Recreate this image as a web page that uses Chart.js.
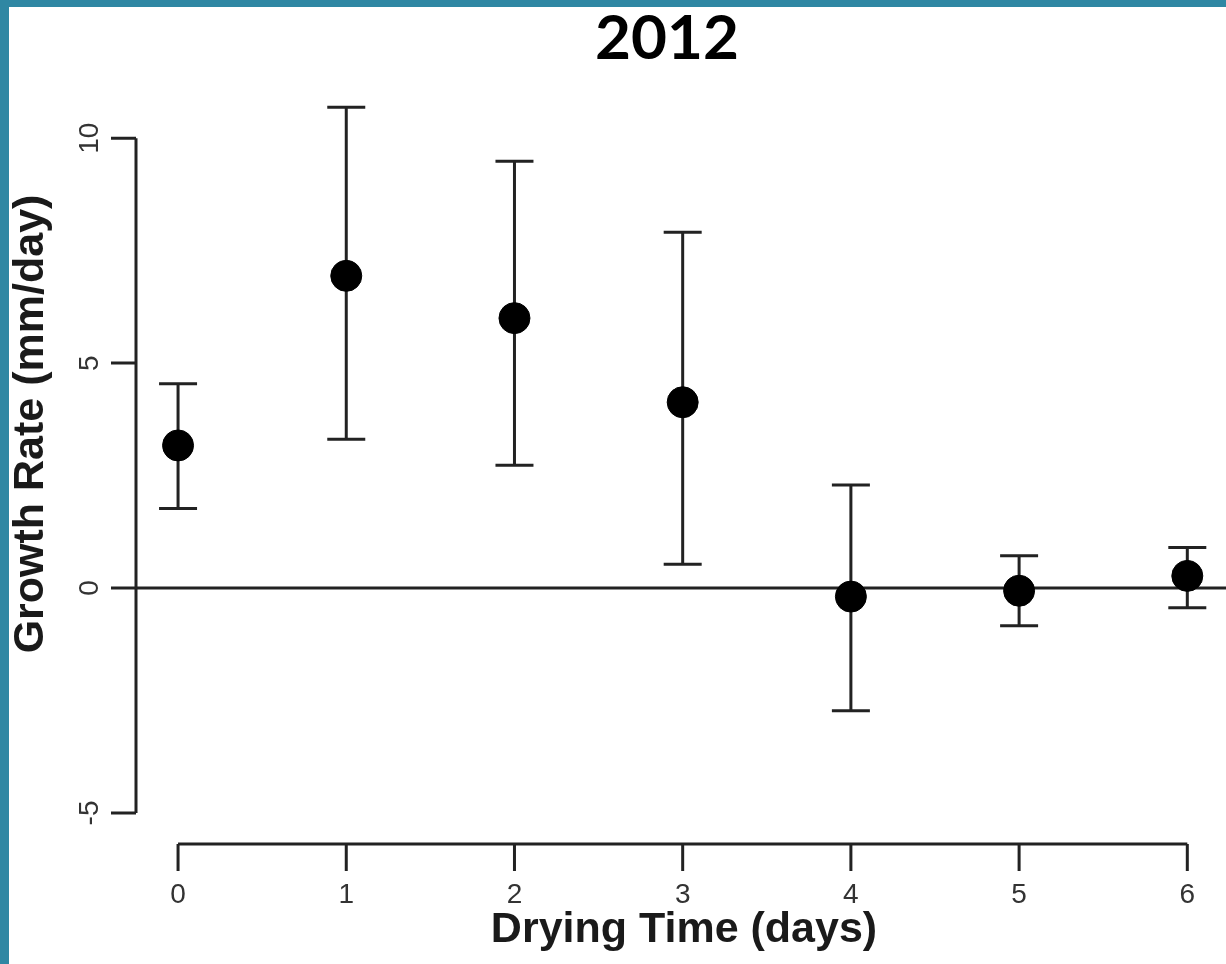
<!DOCTYPE html>
<html>
<head>
<meta charset="utf-8">
<script src="https://cdn.jsdelivr.net/npm/chart.js@4.4.1/dist/chart.umd.min.js"></script>
<style>
  html, body { margin: 0; padding: 0; background: #fff; overflow: hidden; }
  #wrap { position: relative; width: 1226px; height: 964px; }
  #borderTop { position: absolute; left: 0; top: 0; width: 1226px; height: 7px; background: #2f87a3; }
  #borderLeft { position: absolute; left: 0; top: 0; width: 9px; height: 964px; background: #2f87a3; }
</style>
</head>
<body>
<div id="wrap">
  <canvas id="grafico" width="1226" height="964"></canvas>
  <div id="borderTop"></div>
  <div id="borderLeft"></div>
</div>
<script>
// dados
const dias = [0, 1, 2, 3, 4, 5, 6];
const taxa = [3.17, 6.94, 6.0, 4.13, -0.19, -0.06, 0.27];
const barraSup = [4.54, 10.69, 9.49, 7.91, 2.29, 0.72, 0.90];
const barraInf = [1.77, 3.31, 2.73, 0.53, -2.73, -0.84, -0.44];
const ticksY = [-5, 0, 5, 10];
const ticksX = [0, 1, 2, 3, 4, 5, 6];

const corLinha = '#222';

// desenha eixos estilo R, linha do zero e barras de erro
const eixosPlugin = {
    id: 'eixosR',
    beforeDatasetsDraw(chart) {
        const { ctx, chartArea, scales: { x, y } } = chart;
        ctx.save();
        ctx.strokeStyle = corLinha;
        ctx.lineWidth = 3;
        ctx.lineCap = 'butt';

        // linha horizontal no zero
        ctx.beginPath();
        ctx.moveTo(chartArea.left, y.getPixelForValue(0));
        ctx.lineTo(chartArea.right, y.getPixelForValue(0));
        ctx.stroke();

        // eixo y (so entre -5 e 10)
        const y0 = y.getPixelForValue(ticksY[0]);
        const y1 = y.getPixelForValue(ticksY[ticksY.length - 1]);
        ctx.beginPath();
        ctx.moveTo(chartArea.left, y0);
        ctx.lineTo(chartArea.left, y1);
        ticksY.forEach(v => {
            const py = y.getPixelForValue(v);
            ctx.moveTo(chartArea.left - 25, py);
            ctx.lineTo(chartArea.left, py);
        });
        ctx.stroke();

        // eixo x
        const x0 = x.getPixelForValue(ticksX[0]);
        const x1 = x.getPixelForValue(ticksX[ticksX.length - 1]);
        ctx.beginPath();
        ctx.moveTo(x0, chartArea.bottom);
        ctx.lineTo(x1, chartArea.bottom);
        ticksX.forEach(v => {
            const px = x.getPixelForValue(v);
            ctx.moveTo(px, chartArea.bottom);
            ctx.lineTo(px, chartArea.bottom + 27);
        });
        ctx.stroke();

        // barras de erro
        dias.forEach((d, i) => {
            const px = x.getPixelForValue(d);
            const pSup = y.getPixelForValue(barraSup[i]);
            const pInf = y.getPixelForValue(barraInf[i]);
            ctx.beginPath();
            ctx.moveTo(px, pSup);
            ctx.lineTo(px, pInf);
            ctx.moveTo(px - 19, pSup);
            ctx.lineTo(px + 19, pSup);
            ctx.moveTo(px - 19, pInf);
            ctx.lineTo(px + 19, pInf);
            ctx.stroke();
        });
        ctx.restore();
    },
    afterDraw(chart) {
        const { ctx, chartArea, scales: { x, y } } = chart;
        ctx.save();
        ctx.fillStyle = '#333';
        ctx.textAlign = 'center';
        ctx.textBaseline = 'middle';

        // rotulos do eixo x
        ctx.font = '28px "Liberation Sans", Arial, sans-serif';
        ticksX.forEach(v => {
            ctx.fillText(String(v), x.getPixelForValue(v), 895);
        });

        // rotulos do eixo y (girados)
        ticksY.forEach(v => {
            ctx.save();
            ctx.translate(chartArea.left - 46, y.getPixelForValue(v));
            ctx.rotate(-Math.PI / 2);
            ctx.fillText(String(v), 0, 0);
            ctx.restore();
        });

        // titulos dos eixos
        ctx.fillStyle = '#1a1a1a';
        ctx.font = 'bold 43px "Liberation Sans", Arial, sans-serif';
        ctx.fillText('Drying Time (days)', 684, 930);

        ctx.save();
        ctx.translate(31, 424);
        ctx.rotate(-Math.PI / 2);
        ctx.fillText('Growth Rate (mm/day)', 0, 0);
        ctx.restore();

        // titulo do slide
        ctx.fillStyle = '#000';
        ctx.font = 'bold 62px Lato, "Open Sans", sans-serif';
        ctx.fillText('2012', 667, 39);
        ctx.restore();
    }
};

const renderizarGrafico = () => {
    const ctx = document.getElementById('grafico').getContext('2d');
    new Chart(ctx, {
        type: 'scatter',
        data: {
            datasets: [{
                data: dias.map((d, i) => ({ x: d, y: taxa[i] })),
                backgroundColor: '#000',
                borderColor: '#000',
                pointRadius: 15.5,
                pointHoverRadius: 15.5
            }]
        },
        options: {
            responsive: false,
            animation: false,
            layout: { autoPadding: false, padding: { left: 136, right: 0, top: 95, bottom: 120 } },
            plugins: {
                legend: { display: false },
                title: { display: false },
                tooltip: { enabled: false }
            },
            scales: {
                x: { type: 'linear', min: -0.25, max: 6.23, display: false },
                y: { type: 'linear', min: -5.69, max: 10.96, display: false }
            }
        },
        plugins: [eixosPlugin]
    });
};

document.addEventListener('DOMContentLoaded', renderizarGrafico);
</script>
</body>
</html>
